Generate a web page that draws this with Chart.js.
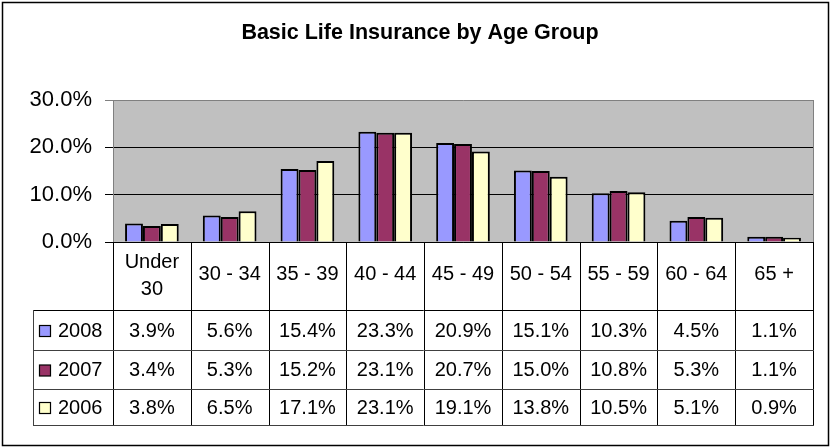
<!DOCTYPE html>
<html>
<head>
<meta charset="utf-8">
<script src="https://cdn.jsdelivr.net/npm/chart.js@4"></script>
<style>
  body { margin: 0; background: #fff; }
  canvas { display: block; }
</style>
</head>
<body>
<canvas id="ageChart" width="831" height="447"></canvas>
<script>
// --- Data (percent) ---
const ageGroups = [['Under', '30'], ['30 - 34'], ['35 - 39'], ['40 - 44'], ['45 - 49'], ['50 - 54'], ['55 - 59'], ['60 - 64'], ['65 +']];
const seriesNames = ['2008', '2007', '2006'];
const values2008 = [3.9, 5.6, 15.4, 23.3, 20.9, 15.1, 10.3, 4.5, 1.1];
const values2007 = [3.4, 5.3, 15.2, 23.1, 20.7, 15.0, 10.8, 5.3, 1.1];
const values2006 = [3.8, 6.5, 17.1, 23.1, 19.1, 13.8, 10.5, 5.1, 0.9];
const seriesColors = ['#9999FF', '#993366', '#FFFFCC'];
const yTickMax = 30, yTickStep = 10;

const FONT = '"Liberation Sans", Arial, sans-serif';
const fmtPct = v => v.toFixed(1) + '%';

// plot background, frame, title and the data table under the chart
const excelLook = {
  id: 'excelLook',
  beforeDraw(chart) {
    const { ctx, chartArea: a } = chart;
    ctx.save();
    ctx.fillStyle = '#fff';
    ctx.fillRect(0, 0, chart.width, chart.height);
    ctx.fillStyle = '#C0C0C0';
    ctx.fillRect(a.left, a.top, a.right - a.left, a.bottom - a.top);
    ctx.restore();
  },
  afterDraw(chart) {
    const { ctx, chartArea: a } = chart;
    const xs = chart.scales.x;
    const n = ageGroups.length;
    const colW = (a.right - a.left) / n;
    const headBottom = 310, rowH = [310, 350, 389, 425], tableLeft = 33;
    const allSeries = [values2008, values2007, values2006];

    ctx.save();
    // right edge of plot area
    ctx.strokeStyle = '#808080';
    ctx.lineWidth = 1;
    ctx.beginPath();
    ctx.moveTo(a.right + 0.5, a.top); ctx.lineTo(a.right + 0.5, a.bottom);
    ctx.stroke();

    // table grid
    ctx.strokeStyle = '#000';
    ctx.beginPath();
    ctx.moveTo(a.left, a.bottom + 0.5); ctx.lineTo(a.right + 1, a.bottom + 0.5);
    for (let i = 0; i <= n; i++) {
      const x = Math.round(a.left + i * colW) + 0.5;
      ctx.moveTo(x, a.bottom); ctx.lineTo(x, rowH[3]);
    }
    ctx.moveTo(tableLeft, headBottom + 0.5); ctx.lineTo(a.right + 1, headBottom + 0.5);
    ctx.stroke();
    ctx.strokeStyle = '#404040';
    ctx.beginPath();
    ctx.moveTo(tableLeft + 0.5, headBottom); ctx.lineTo(tableLeft + 0.5, rowH[3]);
    rowH.slice(1).forEach(y => { ctx.moveTo(tableLeft, y + 0.5); ctx.lineTo(a.right + 1, y + 0.5); });
    ctx.stroke();

    // header labels
    ctx.fillStyle = '#000';
    ctx.font = '20px ' + FONT;
    ctx.textAlign = 'center';
    ctx.textBaseline = 'middle';
    ageGroups.forEach((lbl, i) => {
      const cx = xs.getPixelForValue(i);
      if (lbl.length === 2) {
        ctx.fillText(lbl[0], cx, 262);
        ctx.fillText(lbl[1], cx, 289);
      } else {
        ctx.fillText(lbl[0], cx, 274);
      }
    });

    // rows
    allSeries.forEach((vals, r) => {
      const cy = (rowH[r] + rowH[r + 1]) / 2 + 1;
      ctx.fillStyle = seriesColors[r];
      ctx.fillRect(39.5, cy - 5.5, 11, 11);
      ctx.strokeStyle = '#000';
      ctx.lineWidth = 1.2;
      ctx.strokeRect(39.5, cy - 5.5, 11, 11);
      ctx.fillStyle = '#000';
      ctx.textAlign = 'left';
      ctx.fillText(seriesNames[r], 58, cy);
      ctx.textAlign = 'center';
      vals.forEach((v, i) => ctx.fillText(fmtPct(v), xs.getPixelForValue(i), cy));
    });

    // title
    ctx.font = 'bold 21.5px ' + FONT;
    ctx.textBaseline = 'alphabetic';
    ctx.fillText('Basic Life Insurance by Age Group', 420, 39);

    // outer frame
    ctx.strokeStyle = '#000';
    ctx.lineWidth = 1.5;
    ctx.strokeRect(2.5, 2.5, 826, 443);
    ctx.restore();
  }
};

new Chart(document.getElementById('ageChart'), {
  type: 'bar',
  data: {
    labels: ageGroups.map(l => l.join(' ')),
    datasets: [values2008, values2007, values2006].map((vals, i) => ({
      label: seriesNames[i],
      data: vals,
      backgroundColor: seriesColors[i],
      borderColor: '#000',
      borderWidth: 2,
      categoryPercentage: 0.69,
      barPercentage: 1
    }))
  },
  options: {
    responsive: false,
    animation: false,
    layout: { padding: { top: 100, right: 18, bottom: 205, left: 0 } },
    plugins: { legend: { display: false }, tooltip: { enabled: false }, title: { display: false } },
    scales: {
      x: { display: false },
      y: {
        min: 0, max: yTickMax,
        afterFit: s => { s.width = 113; },
        ticks: { stepSize: yTickStep, color: '#000', padding: 13, font: { size: 22, family: FONT }, callback: v => fmtPct(v) },
        grid: { color: c => (c.tick && c.tick.value === yTickMax ? '#808080' : '#000'), tickLength: 8, lineWidth: 1 },
        border: { display: true, color: '#808080', width: 1 }
      }
    }
  },
  plugins: [excelLook]
});
</script>
</body>
</html>
